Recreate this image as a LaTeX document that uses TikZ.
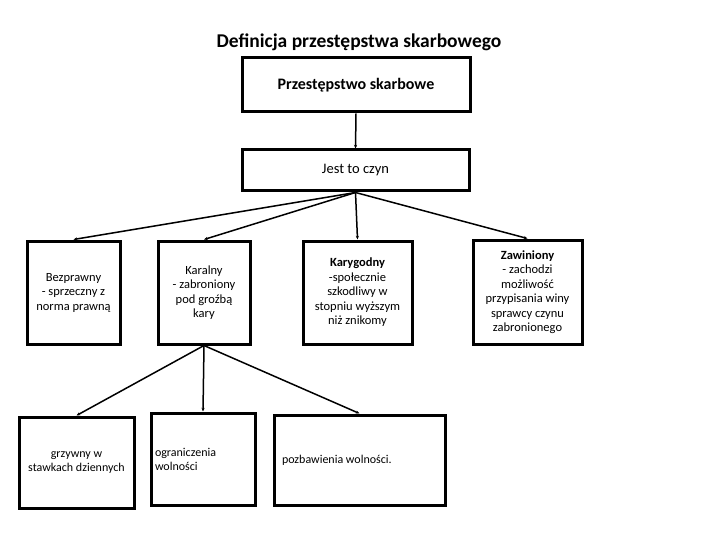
\documentclass[tikz,border=0pt]{standalone}
\usepackage{fontspec}
\setmainfont{Carlito}
\usetikzlibrary{arrows.meta}
\definecolor{DefInk}{HTML}{000000}

\begin{document}
\begin{tikzpicture}[
    x=1pt,y=-1pt,
    font=\fontsize{12.5}{14.5}\selectfont,
    box/.style={draw=DefInk,line width=3pt,fill=white,align=center,inner sep=2pt},
    link/.style={-{Stealth[length=1.3mm,width=1.1mm]},line width=1.5pt,DefInk}
  ]
    \useasboundingbox (0,0) rectangle (720,540);

    \node[font=\fontsize{19.5}{22}\selectfont\bfseries] (title) at (359,42) {Definicja przestępstwa skarbowego};

    \node[box,minimum width=228pt,minimum height=54pt,font=\fontsize{16}{18}\selectfont\bfseries] (przest) at (356,85) {Przestępstwo skarbowe};
    \node[box,minimum width=227pt,minimum height=41pt,font=\fontsize{14.5}{17}\selectfont] (czyn) at (355.5,170.5) {Jest to czyn};

    \node[box,minimum width=93pt,minimum height=103pt] (bezpr) at (73.5,292.5) {Bezprawny\\- sprzeczny z\\norma prawną};
    \node[box,minimum width=92pt,minimum height=103pt] (karal) at (204,292.5) {Karalny\\- zabroniony\\pod groźbą\\kary};
    \node[box,minimum width=109pt,minimum height=103pt] (karyg) at (357.5,292.5) {\textbf{Karygodny}\\-społecznie\\szkodliwy w\\stopniu wyższym\\niż znikomy};
    \node[box,minimum width=109pt,minimum height=104pt] (zawin) at (527.5,292) {\textbf{Zawiniony}\\- zachodzi\\możliwość\\przypisania winy\\sprawcy czynu\\zabronionego};

    \node[box,minimum width=115pt,minimum height=91pt,font=\fontsize{12}{14}\selectfont] (grzyw) at (76.5,462.5) {grzywny w\\stawkach dziennych};
    \node[box,align=flush left,inner xsep=4pt,text width=96pt,minimum height=92pt,font=\fontsize{12}{14}\selectfont] (ogran) at (203,459) {ograniczenia\\wolności};
    \node[box,align=flush left,inner xsep=8pt,text width=155pt,minimum height=90pt,font=\fontsize{12}{14}\selectfont] (pozba) at (359.5,460) {pozbawienia wolności.};

    \draw[link] (przest.south) -- (czyn.north);
    \draw[link] (czyn.south) -- (bezpr.north);
    \draw[link] (czyn.south) -- (karal.north);
    \draw[link] (czyn.south) -- (karyg.north);
    \draw[link] (czyn.south) -- (zawin.north);
    \draw[link] (karal.south) -- (grzyw.north);
    \draw[link] (karal.south) -- (ogran.north);
    \draw[link] (karal.south) -- (pozba.north);
  \end{tikzpicture}
\end{document}
